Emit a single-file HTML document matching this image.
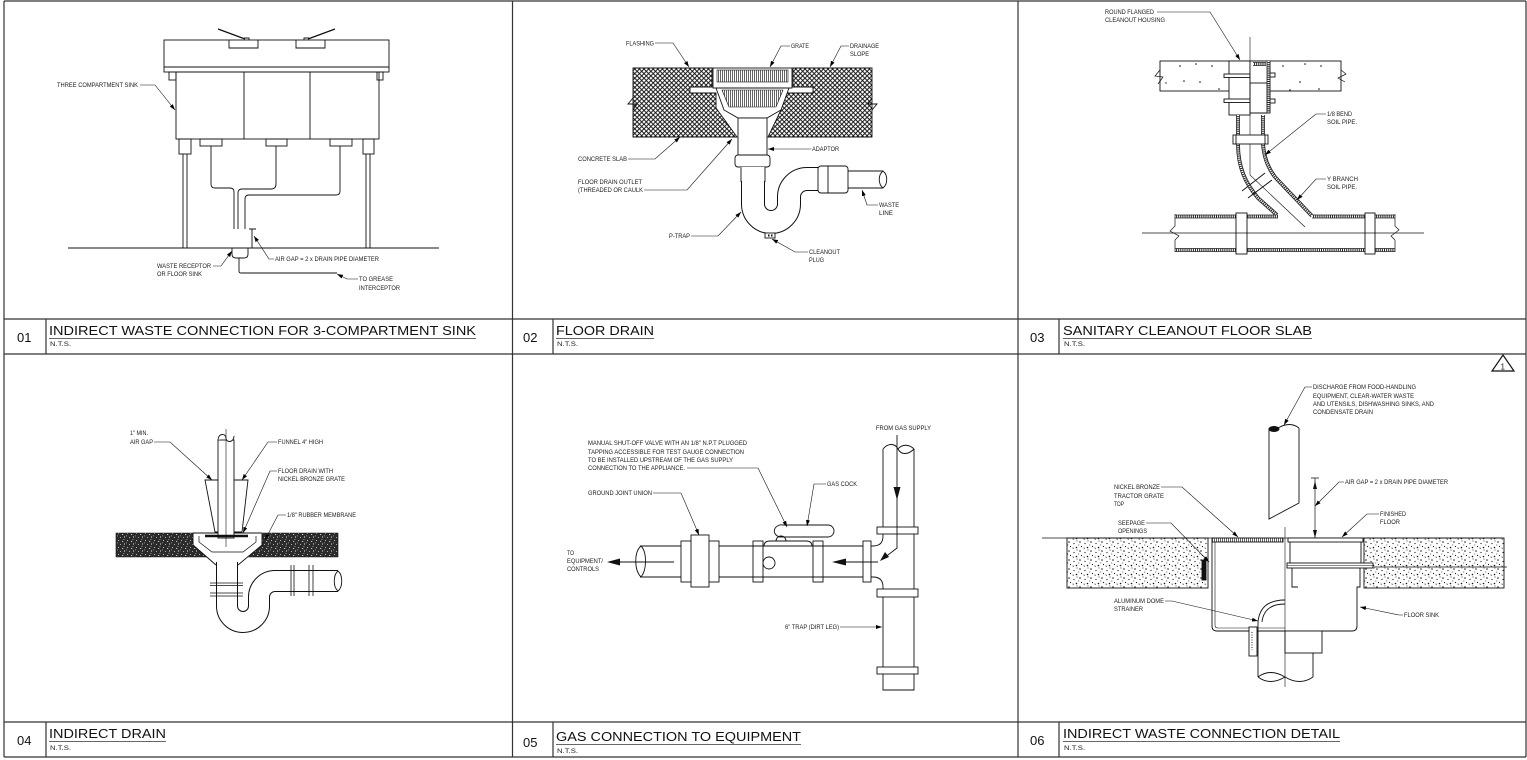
<!DOCTYPE html>
<html><head><meta charset="utf-8">
<style>
html,body{margin:0;padding:0;background:#fff;}
svg{display:block;}
text{font-family:"Liberation Sans",Arial,sans-serif;fill:#1a1a1a;}
.l{font-size:6.3px;}
.t{font-size:13px;fill:#111;}
.n{font-size:13px;fill:#111;}
.s{font-size:6.3px;}
</style></head>
<body>
<svg width="1527" height="760" viewBox="0 0 1527 760" xmlns="http://www.w3.org/2000/svg">
<defs>
<marker id="a" markerUnits="userSpaceOnUse" markerWidth="6" markerHeight="4" refX="6" refY="2" orient="auto" viewBox="0 0 6 4"><path d="M0,0L6,2L0,4z" fill="#000"/></marker>
<pattern id="xh" patternUnits="userSpaceOnUse" width="4.6" height="4.6"><rect width="4.6" height="4.6" fill="#fff"/><path d="M0,0L4.6,4.6M4.6,0L0,4.6" stroke="#111" stroke-width="0.95"/></pattern>
<pattern id="vg" patternUnits="userSpaceOnUse" width="2" height="10"><rect width="2" height="10" fill="#fff"/><path d="M0.5,0V10" stroke="#222" stroke-width="0.7"/></pattern>
<pattern id="dk" patternUnits="userSpaceOnUse" width="9" height="7"><rect width="9" height="7" fill="#2b2b2b"/><rect x="1" y="1" width="1" height="0.8" fill="#ddd"/><rect x="5" y="2" width="1.2" height="0.8" fill="#eee"/><rect x="3" y="5" width="0.8" height="1" fill="#ccc"/><rect x="7" y="4.5" width="1" height="1" fill="#eee"/><rect x="0" y="3.5" width="0.8" height="0.8" fill="#bbb"/><rect x="6.5" y="0" width="0.8" height="0.8" fill="#ccc"/></pattern>
<pattern id="sp" patternUnits="userSpaceOnUse" width="11" height="9"><rect width="11" height="9" fill="#fff"/><circle cx="2" cy="2" r="0.75" fill="#111"/><circle cx="7" cy="3.5" r="0.6" fill="#111"/><circle cx="9.5" cy="7.5" r="0.8" fill="#111"/><circle cx="3.5" cy="6.5" r="0.6" fill="#111"/><path d="M5.5,7.5l1.5,0.5l-1,1z" fill="#111"/><circle cx="10" cy="1" r="0.5" fill="#111"/><circle cx="0.8" cy="5" r="0.45" fill="#111"/></pattern>
</defs>
<rect width="1527" height="760" fill="#fff"/>

<!-- GRID -->
<path d="M4,1H1526M4,1V757M512.5,1V757M1018,1V757M1526,1V757M4,319H1526M4,354H1526M4,722H1526M4,757H1526M46,319V354M553,319V354M1059,319V354M46,722V757M553,722V757M1059,722V757" stroke="#333" stroke-width="1.2" fill="none"/>

<!-- TITLES -->
<text class="n" x="17" y="342">01</text>
<text class="t" x="49" y="335" textLength="427" lengthAdjust="spacingAndGlyphs">INDIRECT WASTE CONNECTION FOR 3-COMPARTMENT SINK</text>
<line x1="49" y1="338.5" x2="476" y2="338.5" stroke="#666" stroke-width="1"/>
<text class="s" x="50" y="346" textLength="21" lengthAdjust="spacingAndGlyphs">N.T.S.</text>

<text class="n" x="523" y="342">02</text>
<text class="t" x="556" y="335" textLength="98" lengthAdjust="spacingAndGlyphs">FLOOR DRAIN</text>
<line x1="556" y1="338.5" x2="654" y2="338.5" stroke="#666" stroke-width="1"/>
<text class="s" x="557" y="346" textLength="21" lengthAdjust="spacingAndGlyphs">N.T.S.</text>

<text class="n" x="1030" y="342">03</text>
<text class="t" x="1063" y="335" textLength="249" lengthAdjust="spacingAndGlyphs">SANITARY CLEANOUT FLOOR SLAB</text>
<line x1="1063" y1="338.5" x2="1312" y2="338.5" stroke="#666" stroke-width="1"/>
<text class="s" x="1064" y="346" textLength="21" lengthAdjust="spacingAndGlyphs">N.T.S.</text>

<text class="n" x="17" y="745">04</text>
<text class="t" x="49" y="738" textLength="117" lengthAdjust="spacingAndGlyphs">INDIRECT DRAIN</text>
<line x1="49" y1="741.5" x2="166" y2="741.5" stroke="#666" stroke-width="1"/>
<text class="s" x="50" y="750" textLength="21" lengthAdjust="spacingAndGlyphs">N.T.S.</text>

<text class="n" x="523" y="747">05</text>
<text class="t" x="556" y="741" textLength="245" lengthAdjust="spacingAndGlyphs">GAS CONNECTION TO EQUIPMENT</text>
<line x1="556" y1="744.5" x2="801" y2="744.5" stroke="#666" stroke-width="1"/>
<text class="s" x="557" y="753" textLength="21" lengthAdjust="spacingAndGlyphs">N.T.S.</text>

<text class="n" x="1030" y="745">06</text>
<text class="t" x="1063" y="738" textLength="277" lengthAdjust="spacingAndGlyphs">INDIRECT WASTE CONNECTION DETAIL</text>
<line x1="1063" y1="741.5" x2="1340" y2="741.5" stroke="#666" stroke-width="1"/>
<text class="s" x="1064" y="750" textLength="21" lengthAdjust="spacingAndGlyphs">N.T.S.</text>

<polygon points="1492,371 1514,371 1503,355" fill="none" stroke="#111" stroke-width="1.2"/>
<text x="1500.5" y="369.5" style="font-size:8px">1</text>

<!-- PANEL 1 -->
<g fill="none" stroke="#111" stroke-width="0.9">
<rect x="164" y="40" width="225" height="27"/>
<rect x="164" y="67" width="225" height="5"/>
<path d="M229,40V48H258V40M296,40V48H325V40"/>
<path d="M218,29L245,39M335,29L308,39" stroke-width="1.2"/>
<path d="M244,38h5v2M309,38h-5v2"/>
<rect x="169" y="72" width="7" height="8"/>
<rect x="377" y="72" width="6" height="8"/>
<rect x="176" y="72" width="203" height="67"/>
<path d="M244,72V139M310,72V139"/>
<rect x="179" y="139" width="12" height="15"/>
<rect x="363" y="139" width="11" height="15"/>
<path d="M183,154V248M187,154V248M366,154V248M370,154V248"/>
<rect x="200" y="139" width="22" height="7"/>
<rect x="266" y="139" width="21" height="7"/>
<rect x="330" y="139" width="22" height="7"/>
<path d="M211,146V184Q211,188 215,188H230Q234,188 234,192V229"/>
<path d="M276,146V184Q276,189 271,189H242Q238,189 238,193V229"/>
<path d="M340,146V191Q340,195 336,195H249Q245,195 245,199V229"/>
<path d="M68,248H439"/>
<path d="M232,248V254Q232,258 236,258H244Q248,258 248,254V248"/>
<path d="M239,258V271Q239,273 241,273H337"/>
<path d="M252,229V248M249,229H256"/>
</g>
<g fill="none" stroke="#111" stroke-width="0.6" marker-end="url(#a)">
<polyline points="140,85 155,85 175,110"/>
<polyline points="213,266 221,266 232,251"/>
<polyline points="274,259 269,259 254,236"/>
<polyline points="358,279 347,279 337,274"/>
</g>
<text class="l" x="57" y="87" textLength="81" lengthAdjust="spacingAndGlyphs">THREE COMPARTMENT SINK</text>
<text class="l" x="157" y="268" textLength="54" lengthAdjust="spacingAndGlyphs">WASTE RECEPTOR</text>
<text class="l" x="157" y="276" textLength="45" lengthAdjust="spacingAndGlyphs">OR FLOOR SINK</text>
<text class="l" x="275" y="261" textLength="104" lengthAdjust="spacingAndGlyphs">AIR GAP = 2 x DRAIN PIPE DIAMETER</text>
<text class="l" x="359" y="281" textLength="34" lengthAdjust="spacingAndGlyphs">TO GREASE</text>
<text class="l" x="359" y="290" textLength="41" lengthAdjust="spacingAndGlyphs">INTERCEPTOR</text>

<!-- PANEL 2 -->
<g stroke="#111" stroke-width="0.9">
<polygon points="633,68 712,68 712,87 690,87 690,93 716,93 716,108 737,137 633,137" fill="url(#xh)"/>
<polygon points="793,68 872,68 872,137 768,137 780,112 787,93 813,93 813,87 793,87" fill="url(#xh)"/>
<path d="M633,98L628,104L637,104L633,110M872,98L868,104L877,104L872,110" fill="none"/>
<path d="M753,167 V204 A18,18 0 0 0 789,204 V197 A18,18 0 0 1 807,179 H820" fill="none" stroke="#111" stroke-width="24"/>
<path d="M753,167 V204 A18,18 0 0 0 789,204 V197 A18,18 0 0 1 807,179 H820" fill="none" stroke="#fff" stroke-width="22"/>
<rect x="713" y="68" width="79" height="20" fill="#fff"/>
<rect x="717" y="70" width="71" height="12" fill="url(#vg)" stroke-width="0.6"/>
<polygon points="716,88 789,88 781,110 767,118 738,118 724,110" fill="#fff"/>
<polygon points="722,90 783,90 776,107 729,107" fill="url(#vg)" stroke-width="0.6"/>
<rect x="738" y="118" width="29" height="37" fill="#fff"/>
<rect x="735" y="155" width="35" height="12" rx="3" fill="#fff"/>
<rect x="740" y="167" width="25" height="14" fill="#fff" stroke="none"/>
<path d="M741,167V182M765,167V182" fill="none"/>
<rect x="818" y="166" width="30" height="27" rx="3" fill="#fff"/>
<path d="M828,166V193M848,171H883M848,188H883M883,171C878,175 878,184 883,188C888,184 888,175 883,171" fill="none"/>
<rect x="765" y="233" width="10" height="5" fill="#fff"/>
<path d="M768,234.5h1.5v2h-1.5zM771,234.5h1.5v2h-1.5z" fill="#111" stroke="none"/>
</g>
<g fill="none" stroke="#111" stroke-width="0.6" marker-end="url(#a)">
<polyline points="655,43 673,43 689,67"/>
<polyline points="790,46 781,46 770,67"/>
<polyline points="849,46 841,46 830,67"/>
<polyline points="811,149 768,149"/>
<polyline points="628,159 655,159 680,137"/>
<polyline points="644,190 687,190 732,139"/>
<polyline points="878,205 867,205 862,190"/>
<polyline points="691,236 718,236 741,212"/>
<polyline points="808,252 795,252 772,239"/>
</g>
<text class="l" x="626" y="45.5" textLength="28" lengthAdjust="spacingAndGlyphs">FLASHING</text>
<text class="l" x="791" y="48" textLength="18" lengthAdjust="spacingAndGlyphs">GRATE</text>
<text class="l" x="850" y="48" textLength="29" lengthAdjust="spacingAndGlyphs">DRAINAGE</text>
<text class="l" x="850" y="56" textLength="19" lengthAdjust="spacingAndGlyphs">SLOPE</text>
<text class="l" x="812" y="151" textLength="27" lengthAdjust="spacingAndGlyphs">ADAPTOR</text>
<text class="l" x="578" y="161" textLength="49" lengthAdjust="spacingAndGlyphs">CONCRETE SLAB</text>
<text class="l" x="578" y="184" textLength="64" lengthAdjust="spacingAndGlyphs">FLOOR DRAIN OUTLET</text>
<text class="l" x="578" y="192" textLength="65" lengthAdjust="spacingAndGlyphs">(THREADED OR CAULK</text>
<text class="l" x="879" y="207" textLength="20" lengthAdjust="spacingAndGlyphs">WASTE</text>
<text class="l" x="879" y="215" textLength="14" lengthAdjust="spacingAndGlyphs">LINE</text>
<text class="l" x="669" y="238" textLength="21" lengthAdjust="spacingAndGlyphs">P-TRAP</text>
<text class="l" x="809" y="254" textLength="31" lengthAdjust="spacingAndGlyphs">CLEANOUT</text>
<text class="l" x="809" y="262" textLength="15" lengthAdjust="spacingAndGlyphs">PLUG</text>

<!-- PANEL 3 -->
<g fill="none" stroke="#111" stroke-width="0.9">
<rect x="1160" y="61" width="181" height="30" fill="#fff"/>
<path d="M1160,70L1155,76L1163,77L1158,84M1341,70L1346,74L1338,78L1345,82" stroke-width="0.7"/>
<g fill="#111" stroke="none">
<circle cx="1180" cy="66" r="0.8"/><circle cx="1196" cy="64" r="0.8"/><circle cx="1212" cy="66" r="0.8"/><circle cx="1184" cy="81" r="0.8"/><circle cx="1200" cy="82" r="0.8"/><circle cx="1219" cy="89" r="0.8"/><circle cx="1166" cy="83" r="0.7"/>
<circle cx="1283" cy="66" r="0.8"/><circle cx="1305" cy="64" r="0.8"/><circle cx="1321" cy="66" r="0.8"/><circle cx="1300" cy="82" r="0.8"/><circle cx="1319" cy="89" r="0.8"/><circle cx="1290" cy="90" r="0.8"/>
</g>
<path d="M1250,37V175L1305,227" stroke-width="0.6"/>
<rect x="1229" y="61" width="21" height="54" fill="#fff"/>
<rect x="1224" y="74" width="26" height="3.5" fill="#fff"/>
<rect x="1224" y="99" width="26" height="3.5" fill="#fff"/>
<rect x="1250" y="61" width="20" height="52" fill="#fff"/>
<rect x="1250" y="83" width="17" height="30"/>
<rect x="1270" y="73" width="5" height="4"/>
<rect x="1270" y="99" width="5" height="4"/>
<g stroke="#222" stroke-width="3.8">
<path d="M1268.5,61V113M1253,64H1266M1238,115V135M1263,115V135M1238,144C1238,168 1246,184 1258,198L1277,215M1263,144C1264,158 1268,168 1275,177L1312,216M1175,216.5H1278M1312,216.5H1395M1175,250H1395"/>
</g>
<g stroke="#fff" stroke-width="2.2" stroke-dasharray="1.1 1">
<path d="M1268.5,61V113M1253,64H1266M1238,115V135M1263,115V135M1238,144C1238,168 1246,184 1258,198L1277,215M1263,144C1264,158 1268,168 1275,177L1312,216M1175,216.5H1278M1312,216.5H1395M1175,250H1395"/>
</g>
<rect x="1233" y="135" width="35" height="9" fill="#fff"/>
<path d="M1236,135V144M1265,135V144"/>
<path d="M1242,191L1265,173M1248,198L1272,180"/>
<rect x="1236" y="213" width="11" height="41" fill="#fff"/>
<rect x="1365" y="213" width="10" height="41" fill="#fff"/>
<path d="M1142,233H1424" stroke-width="0.7"/>
<path d="M1175,214V226L1170,231L1179,236L1175,240V252M1395,214V226L1399,230L1391,236L1395,240V252" stroke-width="0.7"/>
</g>
<g fill="none" stroke="#111" stroke-width="0.6" marker-end="url(#a)">
<polyline points="1157,12 1210,12 1240,60"/>
<polyline points="1326,114 1316,114 1265,155"/>
<polyline points="1326,179 1316,179 1297,200"/>
</g>
<text class="l" x="1105" y="14" textLength="49" lengthAdjust="spacingAndGlyphs">ROUND FLANGED</text>
<text class="l" x="1105" y="22" textLength="60" lengthAdjust="spacingAndGlyphs">CLEANOUT HOUSING</text>
<text class="l" x="1327" y="116" textLength="25" lengthAdjust="spacingAndGlyphs">1/8 BEND</text>
<text class="l" x="1327" y="124" textLength="30" lengthAdjust="spacingAndGlyphs">SOIL PIPE.</text>
<text class="l" x="1327" y="181" textLength="31" lengthAdjust="spacingAndGlyphs">Y BRANCH</text>
<text class="l" x="1327" y="189" textLength="30" lengthAdjust="spacingAndGlyphs">SOIL PIPE.</text>

<!-- PANEL 4 -->
<g fill="none" stroke="#111" stroke-width="0.9">
<path d="M227,562 V606 A16,16 0 0 0 259,606 V597 A16,16 0 0 1 275,581 H338" stroke-width="22"/>
<path d="M227,562 V606 A16,16 0 0 0 259,606 V597 A16,16 0 0 1 275,581 H338" stroke="#fff" stroke-width="20"/>
<path d="M338,571C333,575 333,587 338,591C343,587 343,575 338,571" fill="#fff"/>
<polygon points="116,533 193,533 193,545 206,557 116,557" fill="url(#dk)" stroke-width="0.6"/>
<polygon points="262,533 338,533 338,557 249,557 262,545" fill="url(#dk)" stroke-width="0.6"/>
<path d="M193,533V545L216,565M262,533V545L238,565"/>
<path d="M199,536V542L212,552H243L256,542V536" stroke-width="0.7"/>
<path d="M193,533H262"/>
<path d="M210,583H243M210,585.5H243M210,593H243M210,596H243M291,565V596M294,565V596M309,565V596M313,565V596" stroke-width="0.8"/>
<polygon points="205,480 248,480 242,532 215,532" fill="#fff"/>
<rect x="218" y="440" width="16" height="98" fill="#fff"/>
<path d="M218,440C218,433 226,433 226,438C226,443 234,443 234,436" fill="#fff"/>
<path d="M226,429V547" stroke-width="0.6"/>
<path d="M205,536H248" stroke-width="2.6"/>
</g>
<g fill="none" stroke="#111" stroke-width="0.6" marker-end="url(#a)">
<polyline points="154,442 170,442 212,480"/>
<polyline points="277,442 268,442 242,480"/>
<polyline points="277,471 270,471 243,533"/>
<polyline points="286,515 278,515 265,540"/>
</g>
<text class="l" x="130" y="435" textLength="18" lengthAdjust="spacingAndGlyphs">1" MIN.</text>
<text class="l" x="130" y="444" textLength="23" lengthAdjust="spacingAndGlyphs">AIR GAP</text>
<text class="l" x="278" y="444" textLength="45" lengthAdjust="spacingAndGlyphs">FUNNEL 4" HIGH</text>
<text class="l" x="278" y="473" textLength="55" lengthAdjust="spacingAndGlyphs">FLOOR DRAIN WITH</text>
<text class="l" x="278" y="481" textLength="67" lengthAdjust="spacingAndGlyphs">NICKEL BRONZE GRATE</text>
<text class="l" x="287" y="517" textLength="69" lengthAdjust="spacingAndGlyphs">1/8" RUBBER MEMBRANE</text>

<!-- PANEL 5 -->
<g fill="none" stroke="#111" stroke-width="0.9">
<path d="M883,449V536Q883,546 873,546H823M823,577H873Q883,577 883,587V690H914V449"/>
<path d="M883,449C888,443 895,443 898,449C901,455 908,455 914,449"/>
<path d="M898,449C902,444 909,444 914,449"/>
<rect x="877" y="527" width="41" height="7" fill="#fff"/>
<rect x="877" y="589" width="41" height="8" fill="#fff"/>
<rect x="877" y="667" width="41" height="7" fill="#fff"/>
<rect x="863" y="541" width="8" height="41" fill="#fff"/>
<rect x="753" y="541" width="10" height="41" fill="#fff"/>
<rect x="813" y="541" width="10" height="41" fill="#fff"/>
<path d="M753,546H763M753,577H763M813,546H823M813,577H823"/>
<path d="M763,577H813M764,546Q764,541 770,541H806Q812,541 812,546M763,546H813"/>
<circle cx="769" cy="563" r="6"/>
<path d="M780,537H828A6,6 0 0 0 828,525H783A7,6 0 0 0 780,537Z" fill="#fff"/>
<path d="M776,541A5,5 0 0 1 786,541"/>
<path d="M719,546H753M719,577H753M640,546H681M640,577H681"/>
<rect x="681" y="541" width="38" height="41" fill="#fff"/>
<rect x="691" y="535" width="18" height="52" fill="#fff"/>
<path d="M641,546C634,552 634,570 641,577C647,570 647,552 641,546"/>
<path d="M674,562H618M878,562H845M897,435V548L884,558"/>
</g>
<g fill="#111">
<polygon points="607,562 620,558.5 620,565.5"/>
<polygon points="832,562 846,558.5 846,565.5"/>
<polygon points="897,500 893.5,487 900.5,487"/>
<polygon points="880,561 885,552 889,557"/>
</g>
<g fill="none" stroke="#111" stroke-width="0.6" marker-end="url(#a)">
<polyline points="687,468 758,468 787,527"/>
<polyline points="826,484 814,484 807,526"/>
<polyline points="653,493 681,493 699,535"/>
<polyline points="840,627 882,627"/>
</g>
<text class="l" x="876" y="430" textLength="55" lengthAdjust="spacingAndGlyphs">FROM GAS SUPPLY</text>
<text class="l" x="588" y="445" textLength="159" lengthAdjust="spacingAndGlyphs">MANUAL SHUT-OFF VALVE WITH AN 1/8" N.P.T PLUGGED</text>
<text class="l" x="588" y="454" textLength="156" lengthAdjust="spacingAndGlyphs">TAPPING ACCESSIBLE FOR TEST GAUGE CONNECTION</text>
<text class="l" x="588" y="462" textLength="145" lengthAdjust="spacingAndGlyphs">TO BE INSTALLED UPSTREAM OF THE GAS SUPPLY</text>
<text class="l" x="588" y="470" textLength="97" lengthAdjust="spacingAndGlyphs">CONNECTION TO THE APPLIANCE.</text>
<text class="l" x="827" y="486" textLength="30" lengthAdjust="spacingAndGlyphs">GAS COCK</text>
<text class="l" x="588" y="495" textLength="64" lengthAdjust="spacingAndGlyphs">GROUND JOINT UNION</text>
<text class="l" x="567" y="555" textLength="7" lengthAdjust="spacingAndGlyphs">TO</text>
<text class="l" x="567" y="563" textLength="36" lengthAdjust="spacingAndGlyphs">EQUIPMENT/</text>
<text class="l" x="567" y="571" textLength="32" lengthAdjust="spacingAndGlyphs">CONTROLS</text>
<text class="l" x="785" y="629" textLength="54" lengthAdjust="spacingAndGlyphs">6" TRAP (DIRT LEG)</text>

<!-- PANEL 6 -->
<g fill="none" stroke="#111" stroke-width="0.9">
<rect x="1067" y="538" width="141" height="50" fill="url(#sp)"/>
<rect x="1364" y="538" width="140" height="50" fill="url(#sp)"/>
<path d="M1042,538H1504M1374,567H1507" stroke-width="0.8"/>
<rect x="1212" y="538" width="71" height="4" fill="url(#vg)"/>
<path d="M1212,542V626Q1212,631 1217,631H1352Q1357,631 1357,626V587H1360V568"/>
<path d="M1215,542V625Q1215,628 1218,628H1285" stroke-width="0.6"/>
<rect x="1288" y="538" width="75" height="4" fill="#fff"/>
<path d="M1290,542V563M1361,542V563"/>
<rect x="1287" y="563" width="86" height="5" fill="#fff"/>
<path d="M1287,565.5H1373" stroke-width="0.5"/>
<path d="M1292,568V587H1298"/>
<rect x="1202" y="560" width="4" height="20" fill="#111"/>
<rect x="1285" y="631" width="37" height="22" fill="#fff"/>
<path d="M1258,622V677M1313,653V677"/>
<path d="M1258,677Q1270,668 1285,677Q1300,686 1313,677"/>
<path d="M1258,677Q1270,686 1285,677"/>
<path d="M1258,622Q1260,600 1285,600M1262,622Q1264,604 1285,604"/>
<rect x="1249" y="627" width="8" height="29" fill="#fff"/>
<path d="M1252,632V650" stroke-dasharray="1 1.5"/>
<path d="M1285,527V687" stroke-width="0.6"/>
<path d="M1269,428V519L1299,503V428"/>
<path d="M1278,428Q1290,421 1299,428"/>
<path d="M1315,478V538M1311,478H1319" stroke-width="0.7"/>
</g>
<ellipse cx="1274" cy="429" rx="5.5" ry="3" fill="#111"/>
<polygon points="1315,538 1313,530 1317,530" fill="#111"/>
<polygon points="1315,481 1313,489 1317,489" fill="#111"/>
<g fill="none" stroke="#111" stroke-width="0.6" marker-end="url(#a)">
<polyline points="1312,387 1305,387 1284,425"/>
<polyline points="1344,482 1339,482 1315,506"/>
<polyline points="1161,487 1182,487 1238,537"/>
<polyline points="1146,523 1171,523 1209,562"/>
<polyline points="1379,514 1367,514 1342,537"/>
<polyline points="1165,601 1172,601 1258,621"/>
<polyline points="1403,615 1399,615 1360,607"/>
</g>
<text class="l" x="1313" y="389" textLength="103" lengthAdjust="spacingAndGlyphs">DISCHARGE FROM FOOD-HANDLING</text>
<text class="l" x="1313" y="398" textLength="101" lengthAdjust="spacingAndGlyphs">EQUIPMENT, CLEAR-WATER WASTE</text>
<text class="l" x="1313" y="406" textLength="121" lengthAdjust="spacingAndGlyphs">AND UTENSILS, DISHWASHING SINKS, AND</text>
<text class="l" x="1313" y="414" textLength="60" lengthAdjust="spacingAndGlyphs">CONDENSATE DRAIN</text>
<text class="l" x="1345" y="484" textLength="103" lengthAdjust="spacingAndGlyphs">AIR GAP = 2 x DRAIN PIPE DIAMETER</text>
<text class="l" x="1114" y="489" textLength="46" lengthAdjust="spacingAndGlyphs">NICKEL BRONZE</text>
<text class="l" x="1114" y="498" textLength="50" lengthAdjust="spacingAndGlyphs">TRACTOR GRATE</text>
<text class="l" x="1114" y="506" textLength="10" lengthAdjust="spacingAndGlyphs">TOP</text>
<text class="l" x="1118" y="525" textLength="27" lengthAdjust="spacingAndGlyphs">SEEPAGE</text>
<text class="l" x="1118" y="533" textLength="29" lengthAdjust="spacingAndGlyphs">OPENINGS</text>
<text class="l" x="1380" y="516" textLength="26" lengthAdjust="spacingAndGlyphs">FINISHED</text>
<text class="l" x="1380" y="524" textLength="20" lengthAdjust="spacingAndGlyphs">FLOOR</text>
<text class="l" x="1114" y="603" textLength="50" lengthAdjust="spacingAndGlyphs">ALUMINUM DOME</text>
<text class="l" x="1114" y="611" textLength="29" lengthAdjust="spacingAndGlyphs">STRAINER</text>
<text class="l" x="1404" y="617" textLength="35" lengthAdjust="spacingAndGlyphs">FLOOR SINK</text>
</svg>
</body></html>
